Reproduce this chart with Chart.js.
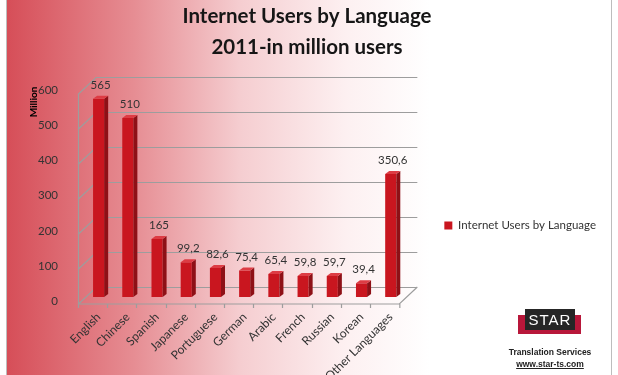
<!DOCTYPE html>
<html>
<head>
<meta charset="utf-8">
<script src="https://cdn.jsdelivr.net/npm/chart.js@4.4.0/dist/chart.umd.min.js"></script>
<style>
  body { margin: 0; background: #fff; }
  #wrap { position: relative; width: 618px; height: 375px; overflow: hidden; }
  #grafico-idiomas { position: absolute; left: 0; top: 0; }
  .faixa { position: absolute; left: 518px; top: 315px; width: 63px; height: 19px; background: #b8173a; }
  .caixa { position: absolute; left: 525px; top: 309px; width: 50px; height: 21px; background: #262626;
           color: #fff; font: 15px "Liberation Sans", Arial, sans-serif; text-align: center; line-height: 21px; letter-spacing: 1px; }
  .txt1, .txt2 { position: absolute; left: 500px; width: 100px; text-align: center; color: #222;
                 font: bold 8.5px "Liberation Sans", Arial, sans-serif; }
  .txt1 { top: 347px; }
  .txt2 { top: 359px; text-decoration: underline; }
</style>
</head>
<body>
<div id="wrap">
  <canvas id="grafico-idiomas" width="618" height="375"></canvas>
  <div class="faixa"></div>
  <div class="caixa">STAR</div>
  <div class="txt1">Translation Services</div>
  <div class="txt2">www.star-ts.com</div>
</div>
<script>
const idiomas = ['English', 'Chinese', 'Spanish', 'Japanese', 'Portuguese', 'German', 'Arabic', 'French', 'Russian', 'Korean', 'Other Languages'];
const usuarios = [565, 510, 165, 99.2, 82.6, 75.4, 65.4, 59.8, 59.7, 39.4, 350.6];
const ticksY = [0, 100, 200, 300, 400, 500, 600];

const fonte = 'Lato';
const corTexto = '#333';

// fundo em degradê e moldura
const fundoPlugin = {
    id: 'fundo',
    beforeDraw(chart) {
        const { ctx, width, height } = chart;
        ctx.save();
        ctx.fillStyle = '#fff';
        ctx.fillRect(0, 0, width, height);
        const g = ctx.createLinearGradient(7, 0, 430, 0);
        g.addColorStop(0, '#d64e58');
        g.addColorStop(0.3, '#e68d93');
        g.addColorStop(0.55, '#f5cdd0');
        g.addColorStop(0.8, '#fdf0f1');
        g.addColorStop(1, '#ffffff');
        ctx.fillStyle = g;
        ctx.fillRect(7, 0, 604, height);
        ctx.strokeStyle = '#bdbdbd';
        ctx.lineWidth = 1;
        ctx.beginPath();
        ctx.moveTo(6.5, 0); ctx.lineTo(6.5, height);
        ctx.moveTo(611.5, 0); ctx.lineTo(611.5, height);
        ctx.stroke();
        ctx.restore();
    }
};

// parede e piso "3D" a partir das escalas
const paredePlugin = {
    id: 'parede',
    beforeDatasetsDraw(chart) {
        const { ctx, chartArea: a, scales: { x, y } } = chart;
        const dx = 18, dy = 17;
        const frente = a.bottom;
        const esq = a.left - 6, dir = a.right - 6;
        ctx.save();
        ctx.strokeStyle = '#9d9d9d';
        ctx.lineWidth = 1.2;
        ctx.beginPath();
        ticksY.forEach(v => {
            const py = Math.round(y.getPixelForValue(v) + 7) + 0.5;
            ctx.moveTo(esq, py);
            ctx.lineTo(esq + dx, py - dy);
            ctx.lineTo(dir + dx, py - dy);
        });
        ctx.moveTo(esq + 0.5, Math.round(y.getPixelForValue(600) + 7));
        ctx.lineTo(esq + 0.5, frente);
        ctx.lineTo(dir, frente);
        ctx.lineTo(dir + dx, frente - dy);
        const larg = x.getPixelForValue(1) - x.getPixelForValue(0);
        idiomas.forEach((_, i) => {
            const px = Math.round(x.getPixelForValue(i) - larg / 2 - 6) + 0.5;
            ctx.moveTo(px, frente);
            ctx.lineTo(px, frente + 4);
        });
        ctx.moveTo(dir + 0.5, frente);
        ctx.lineTo(dir + 0.5, frente + 4);
        ctx.stroke();
        ctx.restore();
    }
};

// faces laterais e topo das barras, com os valores
const barras3dPlugin = {
    id: 'barras3d',
    afterDatasetsDraw(chart) {
        const { ctx } = chart;
        const meta = chart.getDatasetMeta(0);
        const d = 4, h = 3;
        ctx.save();
        meta.data.forEach((bar, i) => {
            const { x: cx, y: topo, base, width } = bar.getProps(['x', 'y', 'base', 'width'], true);
            const e = cx - width / 2, r = cx + width / 2;
            ctx.fillStyle = '#8e1016';
            ctx.beginPath();
            ctx.moveTo(r, topo); ctx.lineTo(r + d, topo - h); ctx.lineTo(r + d, base - h); ctx.lineTo(r, base);
            ctx.closePath(); ctx.fill();
            ctx.fillStyle = '#dd3c44';
            ctx.beginPath();
            ctx.moveTo(e, topo); ctx.lineTo(e + d, topo - h); ctx.lineTo(r + d, topo - h); ctx.lineTo(r, topo);
            ctx.closePath(); ctx.fill();

            ctx.fillStyle = corTexto;
            ctx.font = `11.5px ${fonte}`;
            ctx.textAlign = 'center';
            ctx.textBaseline = 'middle';
            ctx.fillText(String(usuarios[i]).replace('.', ','), cx + 2, topo - 13.5);
        });
        ctx.restore();
    }
};

new Chart(document.getElementById('grafico-idiomas'), {
    type: 'bar',
    data: {
        labels: idiomas,
        datasets: [{
            label: 'Internet Users by Language',
            data: usuarios,
            backgroundColor: '#c9161f',
            borderWidth: 0,
            barPercentage: 0.38,
            categoryPercentage: 1
        }]
    },
    options: {
        responsive: false,
        animation: false,
        layout: { padding: { left: 8, right: 12, top: 0, bottom: 0 } },
        plugins: {
            title: {
                display: true,
                text: ['Internet Users by Language', '2011-in million users'],
                color: '#161616',
                font: { family: fonte, size: 20.5, weight: 'bold', lineHeight: 1.5 },
                padding: { top: 1, bottom: 24 }
            },
            legend: {
                position: 'right',
                fullSize: false,
                maxWidth: 210,
                // título vazio só para descer a legenda
                title: { display: true, text: '', padding: { top: 46, bottom: 0 } },
                labels: { boxWidth: 8, boxHeight: 8, padding: 39, color: corTexto, font: { family: fonte, size: 11.5 } }
            },
            tooltip: { enabled: false }
        },
        scales: {
            x: {
                grid: { display: false, drawTicks: false },
                border: { display: false },
                ticks: { minRotation: 45, maxRotation: 45, autoSkip: false, padding: 6, color: corTexto, font: { family: fonte, size: 12 } },
                afterFit(s) { s.height = 71; }
            },
            y: {
                min: -20,
                max: 600,
                afterBuildTicks(s) { s.ticks = ticksY.map(v => ({ value: v })); },
                grid: { display: false, drawTicks: false },
                border: { display: false },
                ticks: { padding: 26, labelOffset: 4, color: corTexto, font: { family: fonte, size: 11.5 } },
                title: { display: true, text: 'Million', align: 'end', color: '#000', font: { family: fonte, size: 10, weight: 'bold' }, padding: { top: 20, bottom: 0 } },
                afterFit(s) { s.width = 76; }
            }
        }
    },
    plugins: [fundoPlugin, paredePlugin, barras3dPlugin]
});
</script>
</body>
</html>
